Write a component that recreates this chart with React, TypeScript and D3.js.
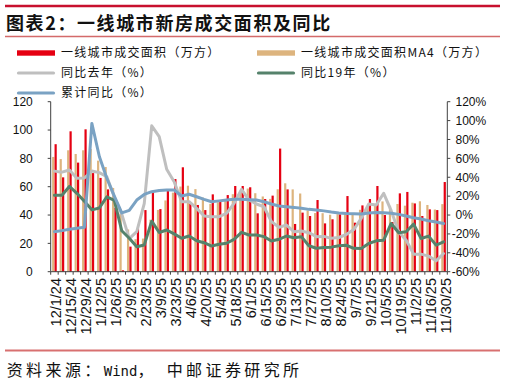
import React from "react";
import * as d3 from "d3";

const weeks = [
  "12/1/24","12/8/24","12/15/24","12/22/24","12/29/24","1/5/25","1/12/25","1/19/25","1/26/25",
  "2/2/25","2/9/25","2/16/25","2/23/25","3/2/25","3/9/25","3/16/25","3/23/25","3/30/25",
  "4/6/25","4/13/25","4/20/25","4/27/25","5/4/25","5/11/25","5/18/25","5/25/25","6/1/25",
  "6/8/25","6/15/25","6/22/25","6/29/25","7/6/25","7/13/25","7/20/25","7/27/25","8/3/25",
  "8/10/25","8/17/25","8/24/25","8/31/25","9/7/25","9/14/25","9/21/25","9/28/25","10/5/25",
  "10/12/25","10/19/25","10/26/25","11/2/25","11/9/25","11/16/25","11/23/25","11/30/25",
];

// 一线城市成交面积（万方）
const areaWeekly = [
  90, 66.6, 99.1, 77, 100.5, 69.6, 66.2, 58.1, 45, 1,
  17.7, 30.3, 43.5, 55.9, 44.2, 57.1, 65.4, 73.7, 48, 47.1,
  43.5, 54.6, 49.4, 54.1, 60.5, 60.5, 59.6, 41.2, 51.3, 53.7,
  86.9, 58.1, 33.7, 41.7, 39.3, 50.6, 34.1, 37, 40.5, 53.4,
  34.6, 46.8, 51.3, 60.5, 40, 35.1, 55.3, 56.3, 48.2, 39.3,
  44, 43.5, 63.3,
];

// 一线城市成交面积MA4（万方）
const areaMA4 = [
  81, 79.5, 85.7, 83.1, 85.7, 86.6, 78.4, 73.9, 59.1, 41,
  29.8, 23, 23.4, 36.7, 43.6, 50.3, 55.8, 60.1, 60.7, 58.3,
  52.3, 47.9, 49, 50.4, 54.7, 57, 58.7, 55.4, 53.1, 51.4,
  58.2, 62.4, 58.1, 55.2, 43.2, 41.4, 41.3, 40.2, 40.6, 41.2,
  41.3, 43.7, 46.3, 47.8, 49.6, 46.5, 47.8, 46.6, 48.7, 49.7,
  47.1, 43.9, 47.7,
];

// 同比去年（%）
const yoyLastYear = [
  46.5, 45.4, 47.7, 38.9, 39.2, 46.6, 44.9, 40.5, 19, 1,
  -25, -17.6, 12, 94.5, 83, 48.5, 35.3, 14.1, 14.1, 7.1,
  -1, -1.7, -1.7, 1.8, 12.4, 27.2, 15.9, 11.7, 8.8, -7,
  -13, -10.6, -17.6, -17, -18.7, -22.9, -22.6, -24.7, -23.8, -20.6,
  -15.4, -3.5, 11.7, 10.6, 23, 4.6, -17.7, -26.6, -41.4, -41.4,
  -43.5, -48.5, -40.7,
];

// 同比19年（%）
const yoyVs2019 = [
  21, 20.9, 30.3, 23, 14.5, 5.5, 7.5, 19.2, 15.6, -16.7,
  -24.6, -33.5, -31.7, -6.5, -18.5, -15.8, -20, -24.6, -22.2, -27.2,
  -29.3, -32.8, -31, -29.9, -25.7, -18.3, -21.1, -21.1, -22.9, -27.5,
  -25.7, -22.2, -24, -22.9, -32.5, -35.2, -34.5, -34, -32.5, -32,
  -35.3, -35.4, -30.1, -27.3, -26.6, -8.9, -18.8, -17.7, -9.6, -24.8,
  -22.3, -31.9, -28.3,
];

// 累计同比（%）
const yoyCumulative = [
  -17.6, -16.5, -15.1, -14, -13, 97, 62, 38.9, 20, 2.2,
  5, 15.9, 21.8, 24.7, 26, 26.5, 26.5, 20.2, 22, 19.4,
  16.6, 14.1, 15, 15.9, 16.6, 16.6, 16.2, 15.9, 14.1, 11.7,
  9.6, 8.8, 8.1, 7.1, 6, 5.3, 4.4, 3.2, 2.2, 1.5,
  1.4, 1.1, 2.1, 2.8, 2.5, 1.8, 0.7, -1, -2.8, -4.2,
  -6, -7.4, -8.9,
];

const leftTicks = [0, 20, 40, 60, 80, 100, 120];
const rightTicks = [-60, -40, -20, 0, 20, 40, 60, 80, 100, 120];

const W = 506;
const H = 385;
const X0 = 50.7;
const X1 = 447.3;
const Y0 = 271.7;
const Y1 = 101.7;

const RED = "#E50012";
const TAN = "#DDB47E";
const GRAY = "#BFBFBF";
const GREEN = "#55826B";
const BLUE = "#7AA2C3";
const AXIS = "#404040";

const NUM_FONT = "'Liberation Sans', Arial, sans-serif";
const CJK_FONT = "'Noto Sans CJK SC', sans-serif";

export default function App() {
  const x = d3.scaleBand<string>().domain(weeks).range([X0, X1]).padding(0);
  const bw = x.bandwidth();
  const xs = d3
    .scaleBand<string>()
    .domain(["ma4", "area"])
    .range([0, bw])
    .paddingInner(0.083)
    .paddingOuter(0.6);
  const yL = d3.scaleLinear().domain([0, 120]).range([Y0, Y1]);
  const yR = d3.scaleLinear().domain([-60, 120]).range([Y0, Y1]);
  const cx = (i: number) => (x(weeks[i]) as number) + bw / 2;
  const lineGen = d3
    .line<number>()
    .x((_, i) => cx(i))
    .y((v) => yR(v));

  const lines = [
    { vals: yoyLastYear, color: GRAY },
    { vals: yoyVs2019, color: GREEN },
    { vals: yoyCumulative, color: BLUE },
  ];

  const boundaries = weeks.map((w) => x(w) as number).concat([X1]);

  const legend = [
    { label: "一线城市成交面积（万方）", kind: "bar", color: RED, lx: 17, ly: 53 },
    { label: "一线城市成交面积MA4（万方）", kind: "bar", color: TAN, lx: 257, ly: 53 },
    { label: "同比去年（%）", kind: "line", color: GRAY, lx: 17, ly: 73 },
    { label: "同比19年（%）", kind: "line", color: GREEN, lx: 257, ly: 73 },
    { label: "累计同比（%）", kind: "line", color: BLUE, lx: 17, ly: 93 },
  ];

  return (
    <svg
      width={W}
      height={H}
      viewBox={`0 0 ${W} ${H}`}
      style={{ position: "absolute", left: 0, top: 0, background: "#fff" }}
    >
      <rect x={0} y={0} width={W} height={H} fill="#fff" />
      {/* header */}
      <line x1={5} x2={500} y1={6} y2={6} stroke="#C8102E" strokeWidth={2.5} />
      <text
        x={6}
        y={30}
        fontFamily={CJK_FONT}
        fontWeight={700}
        fontSize={18}
        letterSpacing={1.6}
        fill="#111"
      >
        图表2：一线城市新房成交面积及同比
      </text>
      <line x1={5} x2={500} y1={36.5} y2={36.5} stroke="#D46A6A" strokeWidth={1.5} />

      {/* legend */}
      {legend.map((d) => (
        <g key={d.label}>
          {d.kind === "bar" ? (
            <rect x={d.lx} y={d.ly - 2.7} width={38} height={5.4} fill={d.color} />
          ) : (
            <line
              x1={d.lx + 1.5}
              x2={d.lx + 36.5}
              y1={d.ly}
              y2={d.ly}
              stroke={d.color}
              strokeWidth={3.2}
              strokeLinecap="round"
            />
          )}
          <text
            x={d.lx + 44}
            y={d.ly + 4.3}
            fontFamily={CJK_FONT}
            fontSize={12}
            letterSpacing={1.3}
            fill="#111"
          >
            {d.label}
          </text>
        </g>
      ))}

      {/* bars */}
      {weeks.map((w, i) => (
        <g key={w}>
          <rect
            x={(x(w) as number) + (xs("ma4") as number)}
            y={yL(areaMA4[i])}
            width={xs.bandwidth()}
            height={Y0 - yL(areaMA4[i])}
            fill={TAN}
          />
          <rect
            x={(x(w) as number) + (xs("area") as number)}
            y={yL(areaWeekly[i])}
            width={xs.bandwidth()}
            height={Y0 - yL(areaWeekly[i])}
            fill={RED}
          />
        </g>
      ))}

      {/* lines */}
      {lines.map((l) => (
        <path
          key={l.color}
          d={lineGen(l.vals) || ""}
          fill="none"
          stroke={l.color}
          strokeWidth={3}
          strokeLinejoin="round"
          strokeLinecap="round"
        />
      ))}

      {/* left axis */}
      <line x1={X0} x2={X0} y1={Y1} y2={Y0} stroke={AXIS} strokeWidth={1} />
      {leftTicks.map((t) => (
        <g key={"l" + t}>
          <line x1={X0 - 3} x2={X0} y1={yL(t)} y2={yL(t)} stroke={AXIS} />
          <text
            x={32.8}
            y={yL(t)}
            dy="0.36em"
            textAnchor="end"
            fontFamily={NUM_FONT}
            fontSize={12}
            fill="#111"
          >
            {t}
          </text>
        </g>
      ))}

      {/* right axis */}
      <line x1={X1} x2={X1} y1={Y1} y2={Y0} stroke={AXIS} strokeWidth={1} />
      {rightTicks.map((t) => (
        <g key={"r" + t}>
          <line x1={X1} x2={X1 + 3} y1={yR(t)} y2={yR(t)} stroke={AXIS} />
          <text
            x={t < 0 ? 451.7 : 455.5}
            y={yR(t)}
            dy="0.36em"
            fontFamily={NUM_FONT}
            fontSize={12}
            fill="#111"
          >
            {`${t}%`}
          </text>
        </g>
      ))}

      {/* x axis */}
      <line x1={X0} x2={X1} y1={Y0} y2={Y0} stroke={AXIS} strokeWidth={1} />
      {boundaries.map((b, i) => (
        <line key={"t" + i} x1={b} x2={b} y1={Y0} y2={Y0 + 3} stroke={AXIS} />
      ))}
      {weeks.map((w, i) =>
        i % 2 === 0 ? (
          <text
            key={"x" + w}
            transform={`translate(${cx(i) + 7},278) rotate(-90)`}
            textAnchor="end"
            fontFamily={NUM_FONT}
            fontSize={14.5}
            fill="#111"
          >
            {w}
          </text>
        ) : null
      )}

      {/* footer */}
      <line x1={5} x2={500} y1={350.5} y2={350.5} stroke="#D87070" strokeWidth={2} />
      <text x={6.7} y={376} fontFamily={CJK_FONT} fontSize={16} letterSpacing={3.4} fill="#111">
        资料来源：
        <tspan fontFamily="'DejaVu Sans Mono', monospace" fontSize={14} letterSpacing={0}>
          Wind
        </tspan>
        <tspan>，</tspan>
        <tspan x={166.7}>中邮证券研究所</tspan>
      </text>
    </svg>
  );
}
